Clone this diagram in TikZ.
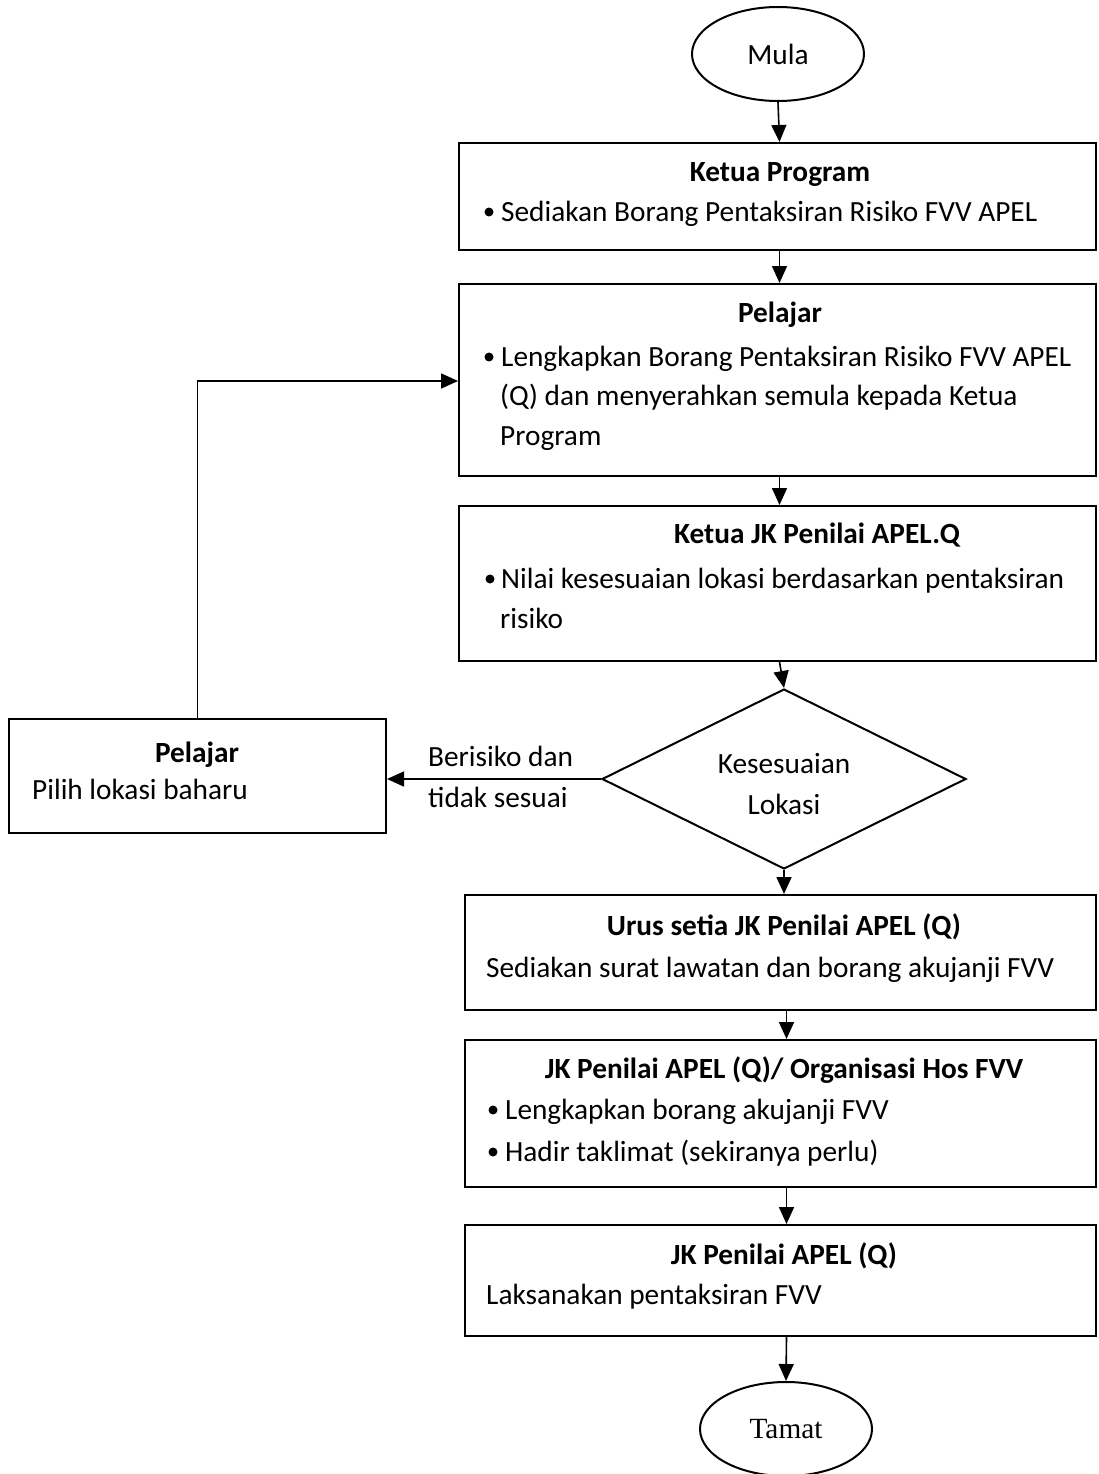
\documentclass[tikz,border=0pt]{standalone}
\usepackage{fontspec}
\setmainfont{Carlito}
\newfontfamily\timesfont{Liberation Serif}
\usetikzlibrary{shapes.geometric,arrows.meta}
\begin{document}
\begin{tikzpicture}[x=1pt,y=-1pt,
  every node/.style={font=\fontsize{29.3}{35}\selectfont},
  box/.style={draw, line width=2pt, rectangle, inner sep=0pt},
  oval/.style={draw, line width=2pt, ellipse, inner sep=0pt, minimum width=172pt, minimum height=94pt},
  ttl/.style={anchor=base, font=\fontsize{29.3}{35}\selectfont\bfseries, inner sep=0pt},
  txt/.style={anchor=base west, inner sep=0pt},
  bul/.style={circle, fill=black, inner sep=0pt, minimum size=9pt},
  arr/.style={line width=1.6pt, -{Triangle[length=17pt,width=15pt]}},
  ln/.style={line width=1.6pt}]
\useasboundingbox (0,0) rectangle (1098,1474);

% start / end
\node[oval] (mula) at (778,54) {Mula};
\node[oval, font=\fontsize{29.3}{35}\selectfont\timesfont] (tamat) at (786,1429) {Tamat};

% boxes
\node[box, minimum width=637pt, minimum height=107pt] (b1) at (777.5,196.5) {};
\node[box, minimum width=637pt, minimum height=192pt] (b2) at (777.5,380) {};
\node[box, minimum width=637pt, minimum height=155pt] (b3) at (777.5,583.5) {};
\node[box, minimum width=377pt, minimum height=114pt] (bl) at (197.5,776) {};
\node[box, minimum width=631pt, minimum height=115pt] (b4) at (780.5,952.5) {};
\node[box, minimum width=631pt, minimum height=147pt] (b5) at (780.5,1113.5) {};
\node[box, minimum width=631pt, minimum height=111pt] (b6) at (780.5,1280.5) {};

% decision
\node[draw, line width=2pt, diamond, inner sep=0pt, minimum width=364pt, minimum height=180pt] (dec) at (784,779) {};
\node[anchor=base, inner sep=0pt] (dt1) at (784,773) {Kesesuaian};
\node[anchor=base, inner sep=0pt] (dt2) at (784,814) {Lokasi};

% box 1 text
\node[ttl] (t1) at (780,182) {Ketua Program};
\node[bul] (u1) at (489,212) {};
\node[txt] (l1) at (501,221) {Sediakan Borang Pentaksiran Risiko FVV APEL};

% box 2 text
\node[ttl] (t2) at (780,322) {Pelajar};
\node[bul] (u2) at (489,357) {};
\node[txt] (l2a) at (501,366) {Lengkapkan Borang Pentaksiran Risiko FVV APEL};
\node[txt] (l2b) at (500,405) {(Q) dan menyerahkan semula kepada Ketua};
\node[txt] (l2c) at (500,445) {Program};

% box 3 text
\node[ttl] (t3) at (817,543) {Ketua JK Penilai APEL.Q};
\node[bul] (u3) at (490,579) {};
\node[txt] (l3a) at (501,588) {Nilai kesesuaian lokasi berdasarkan pentaksiran};
\node[txt] (l3b) at (500,628) {risiko};

% left box text
\node[ttl] (tl) at (197,762) {Pelajar};
\node[txt] (ll) at (32,799) {Pilih lokasi baharu};

% label
\node[txt] (lab1) at (428,766) {Berisiko dan};
\node[txt] (lab2) at (428,807) {tidak sesuai};

% box 4 text
\node[ttl] (t4) at (784,935) {Urus setia JK Penilai APEL (Q)};
\node[txt] (l4) at (486,977) {Sediakan surat lawatan dan borang akujanji FVV};

% box 5 text
\node[ttl] (t5) at (784,1078) {JK Penilai APEL (Q)/ Organisasi Hos FVV};
\node[bul] (u5a) at (493,1110) {};
\node[txt] (l5a) at (505,1119) {Lengkapkan borang akujanji FVV};
\node[bul] (u5b) at (493,1152) {};
\node[txt] (l5b) at (505,1161) {Hadir taklimat (sekiranya perlu)};

% box 6 text
\node[ttl] (t6) at (784,1264) {JK Penilai APEL (Q)};
\node[txt] (l6) at (486,1304) {Laksanakan pentaksiran FVV};

% connectors
\draw[arr] (mula.south) -- ([xshift=2pt]b1.north);
\draw[arr] ([xshift=2pt]b1.south) -- ([xshift=2pt]b2.north);
\draw[arr] ([xshift=2pt]b2.south) -- ([xshift=2pt]b3.north);
\draw[arr] ([xshift=2pt]b3.south) -- (dec.north);
\draw[arr] (dec.south) -- (dec.south |- b4.north);
\draw[arr] ([xshift=6pt]b4.south) -- ([xshift=6pt]b5.north);
\draw[arr] ([xshift=6pt]b5.south) -- ([xshift=6pt]b6.north);
\draw[arr] ([xshift=6pt]b6.south) -- (tamat.north);
\draw[arr] (dec.west) -- (dec.west -| bl.east);
\coordinate (lc) at (bl.north |- 0,381);
\draw[arr] (bl.north) -- (lc) -- (lc -| b2.west);
\end{tikzpicture}
\end{document}
